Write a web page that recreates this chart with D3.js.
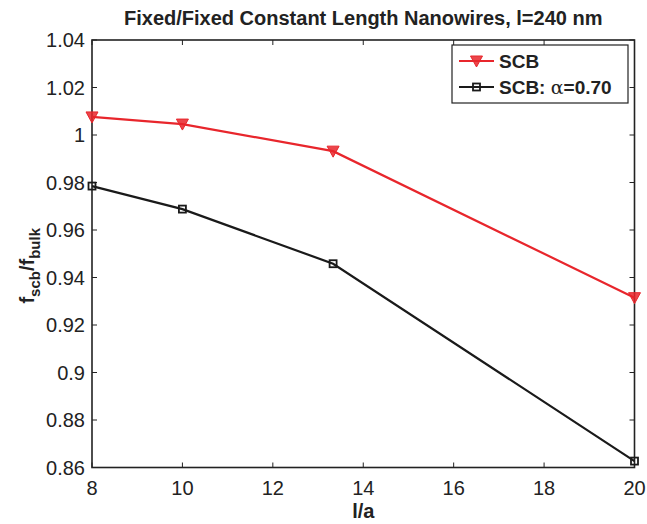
<!DOCTYPE html>
<html>
<head>
<meta charset="utf-8">
<script src="https://cdn.jsdelivr.net/npm/d3@7"></script>
<style>
  body { margin: 0; background: #fff; }
  text { font-family: "Liberation Sans", Arial, sans-serif; fill: #222; }
</style>
</head>
<body>
<div id="chart"></div>
<script>
// data
const lOverA = [8, 10, 13.333, 20];
const scb = [1.0076, 1.0046, 0.9932, 0.9315];
const scbAlpha = [0.9785, 0.9688, 0.9458, 0.8627];
const xTicks = [8, 10, 12, 14, 16, 18, 20];
const yTicks = [0.86, 0.88, 0.9, 0.92, 0.94, 0.96, 0.98, 1, 1.02, 1.04];

const W = 647, H = 524;
const margin = { top: 40, right: 12.5, bottom: 56.5, left: 92 };
const width = W - margin.left - margin.right;
const height = H - margin.top - margin.bottom;

const svg = d3.select('#chart').append('svg')
    .attr('width', W).attr('height', H);

const g = svg.append('g')
    .attr('transform', `translate(${margin.left},${margin.top})`);

const x = d3.scaleLinear().domain([8, 20]).range([0, width]);
const y = d3.scaleLinear().domain([0.86, 1.04]).range([height, 0]);

// inward ticks on all four sides
const tickLen = 5;
g.selectAll('.xt').data(xTicks).enter().append('g').each(function(d) {
    const t = d3.select(this);
    t.append('line').attr('x1', x(d)).attr('x2', x(d)).attr('y1', height).attr('y2', height - tickLen).attr('stroke', '#222');
    t.append('line').attr('x1', x(d)).attr('x2', x(d)).attr('y1', 0).attr('y2', tickLen).attr('stroke', '#222');
    t.append('text').attr('x', x(d)).attr('y', height + 27).attr('text-anchor', 'middle')
        .style('font-size', '20px').text(d);
});
g.selectAll('.yt').data(yTicks).enter().append('g').each(function(d) {
    const t = d3.select(this);
    t.append('line').attr('x1', 0).attr('x2', tickLen).attr('y1', y(d)).attr('y2', y(d)).attr('stroke', '#222');
    t.append('line').attr('x1', width).attr('x2', width - tickLen).attr('y1', y(d)).attr('y2', y(d)).attr('stroke', '#222');
    t.append('text').attr('x', -7).attr('y', y(d) + 7).attr('text-anchor', 'end')
        .style('font-size', '20px').text(d3.format('~g')(d));
});

g.append('rect').attr('width', width).attr('height', height)
    .attr('fill', 'none').attr('stroke', '#222').attr('stroke-width', 1.6);

const line = d3.line().x(d => x(d[0])).y(d => y(d[1]));
const red = '#e8262c', black = '#1a1a1a';

const series = [
    { name: 'SCB', vals: scb, color: red, marker: 'tri' },
    { name: 'alpha', vals: scbAlpha, color: black, marker: 'sq' }
];

function drawMarker(sel, type, color, cx, cy) {
    if (type === 'tri') {
        sel.append('path')
            .attr('d', `M${cx - 6},${cy - 5}L${cx + 6},${cy - 5}L${cx},${cy + 6}Z`)
            .attr('fill', color).attr('stroke', color).attr('stroke-width', 1)
            .attr('fill-opacity', 0.85);
    } else {
        sel.append('rect').attr('x', cx - 3.5).attr('y', cy - 3.5)
            .attr('width', 7).attr('height', 7)
            .attr('fill', 'none').attr('stroke', color).attr('stroke-width', 1.8);
    }
}

series.forEach(s => {
    const pts = lOverA.map((v, i) => [v, s.vals[i]]);
    g.append('path').datum(pts).attr('d', line)
        .attr('fill', 'none').attr('stroke', s.color).attr('stroke-width', 2.2);
    pts.forEach(p => drawMarker(g, s.marker, s.color, x(p[0]), y(p[1])));
});

// legend
const leg = svg.append('g').attr('transform', 'translate(452,45)');
leg.append('rect').attr('width', 176).attr('height', 58)
    .attr('fill', '#fff').attr('stroke', '#222').attr('stroke-width', 1.2);
[{ s: series[0], y: 16 }, { s: series[1], y: 42 }].forEach(r => {
    leg.append('line').attr('x1', 7).attr('x2', 42).attr('y1', r.y).attr('y2', r.y)
        .attr('stroke', r.s.color).attr('stroke-width', 2.2);
    drawMarker(leg, r.s.marker, r.s.color, 24.5, r.y);
});
leg.append('text').attr('x', 47).attr('y', 23).style('font-size', '19px')
    .style('font-weight', 'bold').text('SCB');
const t2 = leg.append('text').attr('x', 47).attr('y', 49).style('font-size', '19px')
    .style('font-weight', 'bold');
t2.append('tspan').text('SCB: ');
t2.append('tspan').style('font-family', '"DejaVu Serif", serif').style('font-weight', 'normal').text('α');
t2.append('tspan').text('=0.70');

// title
svg.append('text').attr('x', margin.left + width / 2).attr('y', 25)
    .attr('text-anchor', 'middle').style('font-size', '20px').style('font-weight', 'bold')
    .text('Fixed/Fixed Constant Length Nanowires, l=240 nm');

// x label
svg.append('text').attr('x', margin.left + width / 2).attr('y', 518)
    .attr('text-anchor', 'middle').style('font-size', '20px').style('font-weight', 'bold')
    .text('l/a');

// y label
const yl = svg.append('text')
    .attr('transform', `translate(34,${margin.top + height / 2 + 12}) rotate(-90)`)
    .attr('text-anchor', 'middle').style('font-size', '20px').style('font-weight', 'bold');
yl.append('tspan').text('f');
yl.append('tspan').attr('dy', 6).style('font-size', '15px').text('scb');
yl.append('tspan').attr('dy', -6).text('/f');
yl.append('tspan').attr('dy', 6).style('font-size', '15px').text('bulk');
</script>
</body>
</html>
